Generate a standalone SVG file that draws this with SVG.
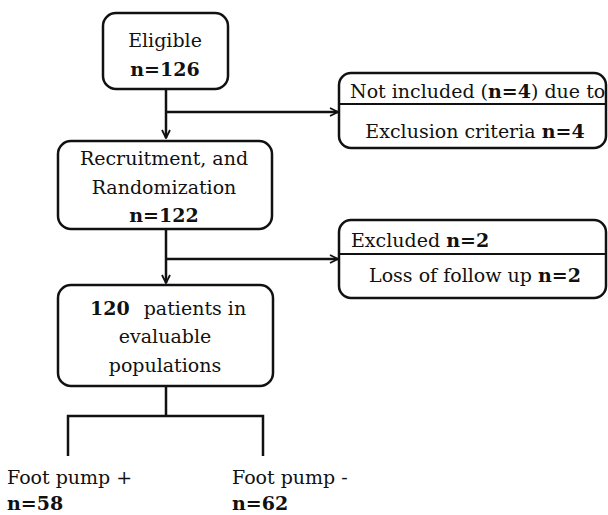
<svg xmlns="http://www.w3.org/2000/svg" width="608" height="515" viewBox="0 0 608 515">
<defs>
<marker id="arr" viewBox="0 0 10 10" refX="9" refY="5" markerWidth="10" markerHeight="10" markerUnits="userSpaceOnUse" orient="auto">
<path d="M1,1 L9,5 L1,9" fill="none" stroke="#111" stroke-width="1.8"/>
</marker>
<style>
.box{fill:#fff;stroke:#111;stroke-width:2.5}
.ln{fill:none;stroke:#111;stroke-width:2.5}
.dv{fill:none;stroke:#111;stroke-width:1.8}
text{font-family:"DejaVu Serif",serif;font-size:19px;fill:#111}
.c{text-anchor:middle}
.b{font-weight:bold}
</style>
</defs>
<rect width="608" height="515" fill="#fff"/>
<g id="connectors">
<path class="ln" d="M166,89 V138" marker-end="url(#arr)"/>
<path class="ln" d="M166,112 H338" marker-end="url(#arr)"/>
<path class="ln" d="M166,229 V283" marker-end="url(#arr)"/>
<path class="ln" d="M166,259 H338" marker-end="url(#arr)"/>
<path class="ln" d="M166,386 V416 M68,456 V416 H263 V456"/>
</g>
<g id="eligible">
<rect class="box" x="103" y="13" width="125" height="76" rx="13"/>
<text class="c" x="165" y="47">Eligible</text>
<text class="c b" x="165" y="76">n=126</text>
</g>
<g id="not-included">
<rect class="box" x="339" y="73" width="267" height="75" rx="12"/>
<line class="dv" x1="339" y1="104" x2="606" y2="104"/>
<text x="350" y="98">Not included (<tspan class="b">n=4</tspan>) due to</text>
<text class="c" x="475" y="138">Exclusion criteria <tspan class="b">n=4</tspan></text>
</g>
<g id="recruitment">
<rect class="box" x="58" y="141" width="214" height="88" rx="13"/>
<text class="c" x="164" y="165">Recruitment, and</text>
<text class="c" x="164" y="194">Randomization</text>
<text class="c b" x="164" y="222">n=122</text>
</g>
<g id="excluded">
<rect class="box" x="339" y="220" width="267" height="78" rx="12"/>
<line class="dv" x1="339" y1="254" x2="606" y2="254"/>
<text x="351" y="247">Excluded <tspan class="b">n=2</tspan></text>
<text class="c" x="475" y="282">Loss of follow up <tspan class="b">n=2</tspan></text>
</g>
<g id="evaluable">
<rect class="box" x="58" y="285" width="215" height="101" rx="13"/>
<text x="90" y="315"><tspan class="b">120</tspan><tspan dx="8"> patients in</tspan></text>
<text class="c" x="165" y="343">evaluable</text>
<text class="c" x="165" y="372">populations</text>
</g>
<g id="foot-pump-plus">
<text x="7" y="484">Foot pump +</text>
<text class="b" x="7" y="510">n=58</text>
</g>
<g id="foot-pump-minus">
<text x="232" y="484">Foot pump -</text>
<text class="b" x="232" y="510">n=62</text>
</g>
</svg>
